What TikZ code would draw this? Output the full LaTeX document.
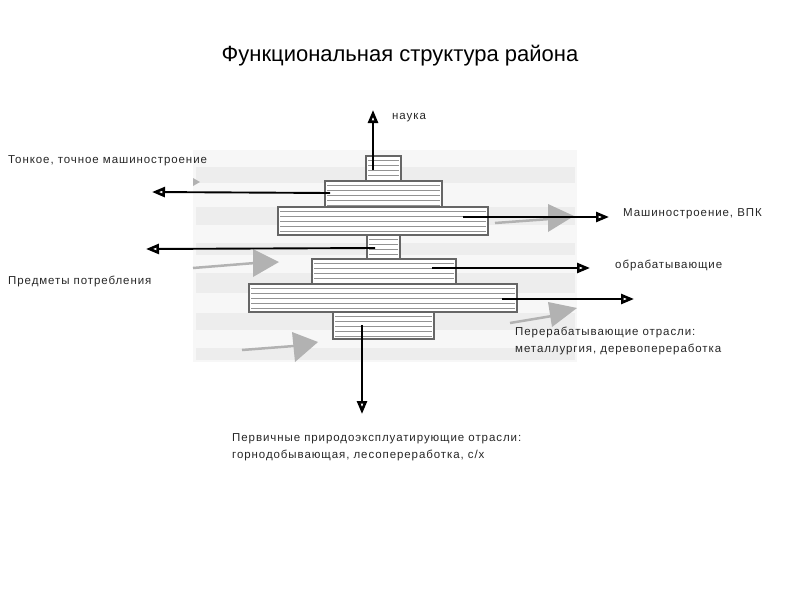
\documentclass[tikz,border=0pt]{standalone}
\usepackage{fontspec}
\setmainfont{Liberation Sans}
\newfontfamily\lab[LetterSpace=8]{Liberation Sans}
\usetikzlibrary{arrows.meta}
\begin{document}
\begin{tikzpicture}[x=1pt,y=-1pt,
  blk/.style={draw=gray!80!black, line width=1.3pt, fill=white},
  hatch/.style={draw=gray!85, line width=0.8pt},
  conn/.style={line width=1.9pt, -{Triangle[open,length=13pt,width=10pt,line width=2.6pt]}},
  bgarrow/.style={fill=gray!60},
  bgline/.style={draw=gray!60, line width=2.5pt},
  band/.style={fill=gray!14},
  lbl/.style={font=\fontsize{11.5}{17}\selectfont\lab, text=black!85, inner sep=0pt, anchor=west, align=left},
  ttl/.style={font=\fontsize{22}{26}\selectfont, inner sep=0pt}
]
\useasboundingbox (0,0) rectangle (800,600);
% scanned background
\fill[gray!6] (193,150) rectangle (577,362);
\foreach \ya/\yb in {167/183, 207/225, 243/255, 273/293, 313/330, 348/360}
  \fill[band] (196,\ya) rectangle (575,\yb);
% grey background arrows
\fill[bgarrow] (193,178) -- (200,182) -- (193,186) -- cycle;
\draw[bgline] (193,268) -- (255,263);
\fill[bgarrow] (253,249) -- (279,262) -- (253,277) -- cycle;
\draw[bgline] (495,223) -- (550,219);
\fill[bgarrow] (548,204) -- (574,216) -- (548,232) -- cycle;
\draw[bgline] (242,350) -- (294,346);
\fill[bgarrow] (292,332) -- (318,342) -- (295,362) -- cycle;
\draw[bgline] (510,323) -- (552,316);
\fill[bgarrow] (548,302) -- (577,308) -- (552,327) -- cycle;
% stepped blocks
\foreach \xa/\ya/\xb/\yb/\nm in {366/156/401/181/r1, 325/181/442/207/r2, 278/207/488/235/r3,
  367/235/400/259/r4, 312/259/456/284/r5, 249/284/517/312/r6, 333/312/434/339/r7}{
  \pgfmathsetmacro{\ww}{\xb-\xa}
  \pgfmathsetmacro{\hh}{\yb-\ya}
  \pgfmathsetmacro{\cx}{(\xa+\xb)/2}
  \pgfmathsetmacro{\cy}{(\ya+\yb)/2}
  \node[blk, minimum width=\ww pt, minimum height=\hh pt, inner sep=0pt] (\nm) at (\cx,\cy) {};
  \pgfmathtruncatemacro{\nn}{(\yb-\ya-6)/5}
  \foreach \k in {0,...,\nn}
    \draw[hatch] (\xa+2,\ya+4+5*\k) -- (\xb-2,\ya+4+5*\k);
}
% connector ends
\coordinate (s1) at (373,170);
\coordinate (e1) at (373,110);
\coordinate (s2) at (330,193);
\coordinate (e2) at (152,192);
\coordinate (s3) at (463,217);
\coordinate (e3) at (609,217);
\coordinate (s4) at (375,248);
\coordinate (e4) at (146,249);
\coordinate (s5) at (432,268);
\coordinate (e5) at (590,268);
\coordinate (s6) at (502,299);
\coordinate (e6) at (634,299);
\coordinate (s7) at (362,325);
\coordinate (e7) at (362,414);
\foreach \i in {1,...,7} \draw[conn] (s\i) -- (e\i);
% labels
\node[ttl] (title) at (400,56) {Функциональная структура района};
\node[lbl] (l1) at (392,118) {наука};
\node[lbl] (l2) at (8,161) {Тонкое, точное машиностроение};
\node[lbl] (l3) at (623,213.5) {Машиностроение, ВПК};
\node[lbl] (l4) at (8,281) {Предметы потребления};
\node[lbl] (l5) at (615,265.5) {обрабатывающие};
\node[lbl] (l6) at (515,340.5) {Перерабатывающие отрасли:\\металлургия, деревопереработка};
\node[lbl] (l7) at (232,447.5) {Первичные природоэксплуатирующие отрасли:\\горнодобывающая, лесопереработка, с/х};
\end{tikzpicture}
\end{document}
